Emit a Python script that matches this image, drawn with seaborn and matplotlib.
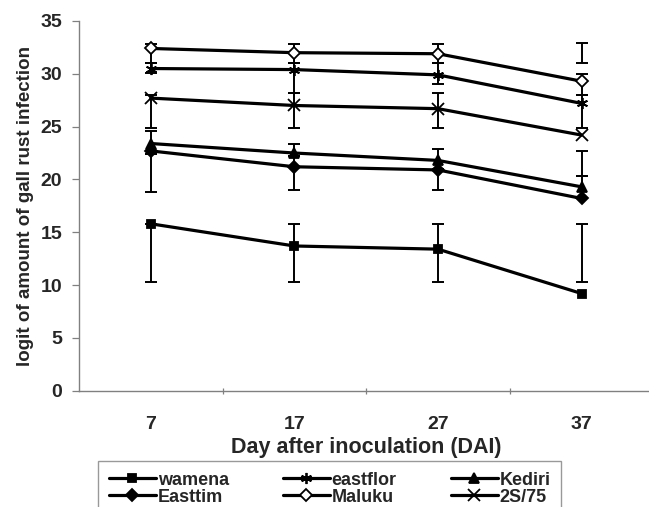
import seaborn as sns
import pandas as pd
import matplotlib.pyplot as plt
import numpy as np

days = [7, 17, 27, 37]
boundaries = [12, 22, 32]
yticks = [0, 5, 10, 15, 20, 25, 30, 35]

wamena = [15.8, 13.7, 13.4, 9.2]
eastflor = [30.5, 30.4, 29.9, 27.2]
kediri = [23.4, 22.5, 21.8, 19.3]
easttim = [22.7, 21.2, 20.9, 18.2]
maluku = [32.4, 32.0, 31.9, 29.3]
s2_75 = [27.7, 27.0, 26.7, 24.2]

# error bar ends (low / high)
wamena_lo = [10.3, 10.3, 10.3, 10.3]
wamena_hi = [15.8, 15.8, 15.8, 15.8]
eastflor_lo = [30.05, 28.2, 29.0, 28.0]
eastflor_hi = [31.0, 31.0, 31.0, 30.0]
kediri_lo = [22.4, 22.2, 21.0, 20.3]
kediri_hi = [24.6, 23.4, 22.85, 22.7]
easttim_lo = [18.85, 19.0, 19.0, 18.2]
easttim_hi = [22.4, 22.2, 21.0, 20.3]
maluku_lo = [31.0, 31.0, 31.0, 31.0]
maluku_hi = [32.85, 32.85, 32.85, 32.9]
s2_75_lo = [24.85, 24.9, 24.9, 24.9]
s2_75_hi = [28.0, 28.2, 28.2, 28.0]

series = [
    ("wamena", wamena, wamena_lo, wamena_hi, "s", "black", 6),
    ("eastflor", eastflor, eastflor_lo, eastflor_hi, (6, 2, 0), "black", 8),
    ("Kediri", kediri, kediri_lo, kediri_hi, "^", "black", 7),
    ("Easttim", easttim, easttim_lo, easttim_hi, "D", "black", 6),
    ("Maluku", maluku, maluku_lo, maluku_hi, "D", "white", 6),
    ("2S/75", s2_75, s2_75_lo, s2_75_hi, "x", "black", 8),
]

sns.set_theme(style="white")
plt.rcParams['font.family'] = ['Liberation Sans', 'DejaVu Sans']
plt.rcParams['font.weight'] = 'bold'

fig = plt.figure(figsize=(6.49, 5.07), dpi=100)
ax = fig.add_axes([0.1217, 0.2294, 0.885, 0.7292])

for name, vals, lo, hi, mk, face, ms in series:
    df = pd.DataFrame({"day": days, "value": vals})
    lo = np.array(lo)
    hi = np.array(hi)
    ax.errorbar(days, (lo + hi) / 2, yerr=(hi - lo) / 2, fmt='none',
                ecolor='black', elinewidth=1.4, capsize=4.5, capthick=1.4,
                zorder=2)
    sns.lineplot(data=df, x="day", y="value", ax=ax, color="black",
                 linewidth=2.3, marker=mk, markersize=ms,
                 markerfacecolor=face, markeredgecolor="black",
                 markeredgewidth=1.3, label=name, zorder=3)

handles, labels = ax.get_legend_handles_labels()
ax.get_legend().remove()

ax.set_xlim(2, 42)
ax.set_ylim(0, 35)
ax.set_yticks(yticks)
ax.set_xticks(days)
ax.set_xticks(boundaries, minor=True)
ax.set_xticklabels([str(d) for d in days], fontsize=14, fontweight='bold')
ax.set_yticklabels([str(t) for t in yticks], fontsize=14, fontweight='bold')
ax.tick_params(axis='x', which='major', length=0, pad=18)
ax.tick_params(axis='x', which='minor', bottom=True, length=5,
               width=0.9, color='#808080', direction='inout')
ax.tick_params(axis='y', left=True, length=5, width=0.9, color='#808080',
               pad=7)

sns.despine(ax=ax, top=True, right=True)
for s in ['left', 'bottom']:
    ax.spines[s].set_color('#808080')
    ax.spines[s].set_linewidth(1.0)

ax.set_xlabel("Day after inoculation (DAI)", fontsize=15.5,
              fontweight='bold', labelpad=3)
ax.set_ylabel("logit of amount of gall rust infection", fontsize=13.5,
              fontweight='bold', labelpad=5)

order = [0, 3, 1, 4, 2, 5]
leg = fig.legend([handles[i] for i in order], [labels[i] for i in order],
                 ncol=3, loc='upper left', bbox_to_anchor=(0.151, 0.091),
                 borderaxespad=0, frameon=True, fancybox=False,
                 edgecolor='#808080', handlelength=2.6, handletextpad=0.1,
                 columnspacing=3.0, labelspacing=0.0, borderpad=0.6,
                 prop={'weight': 'bold', 'size': 13})
leg.get_frame().set_linewidth(1.0)

plt.savefig('out.png', dpi=100)
